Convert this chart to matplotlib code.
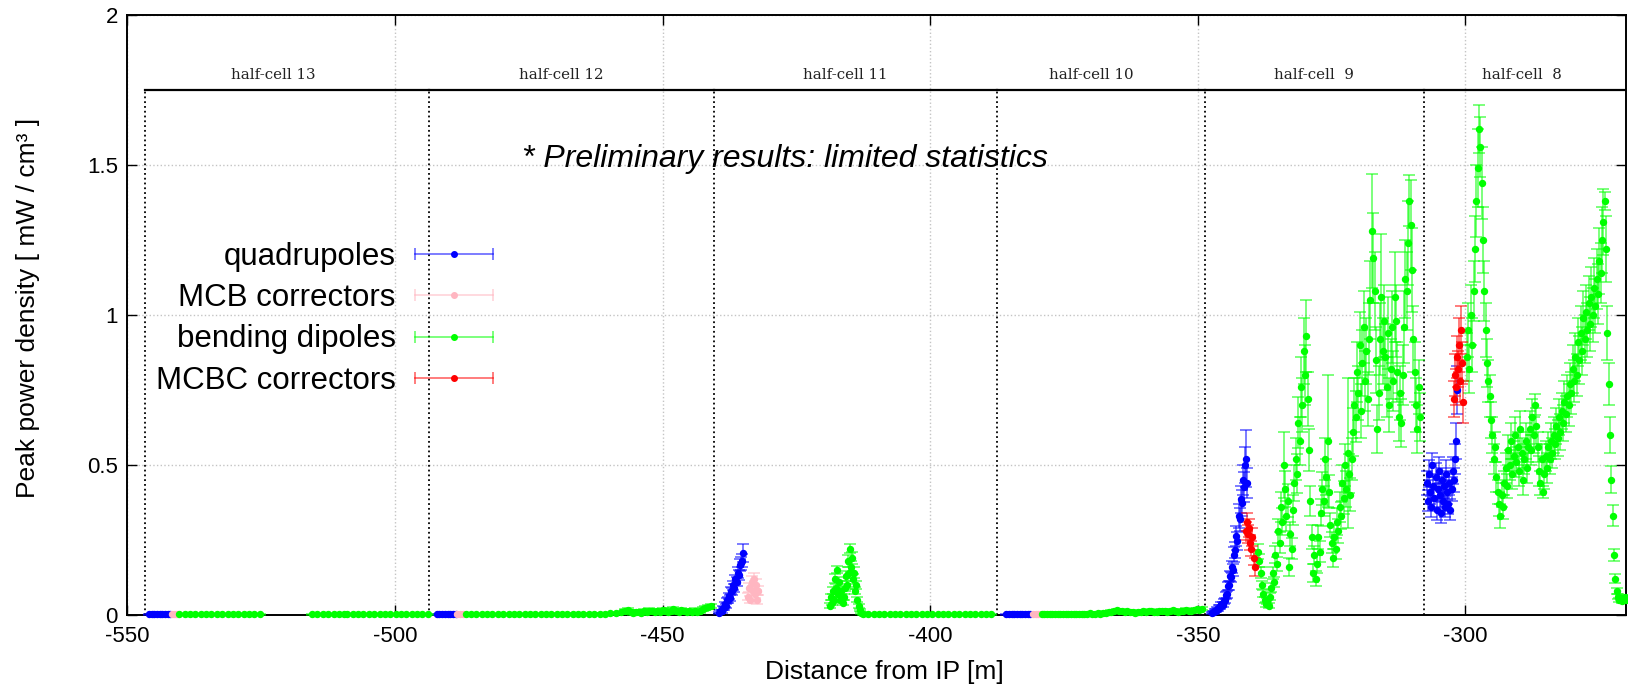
import numpy as np
import matplotlib.pyplot as plt
from matplotlib.colors import to_rgb
from matplotlib.lines import Line2D
from matplotlib.legend_handler import HandlerBase

plt.rcParams['font.family'] = ['Liberation Sans', 'DejaVu Sans']
plt.rcParams['axes.unicode_minus'] = False

# ---- data ----
# each segment: start position [m], spacing [m], values, errors

# quadrupoles
quad_flat1_y = [0.001, 0.002, 0.001, 0.001, 0.002, 0.001, 0.001, 0.002, 0.001]
quad_flat2_y = [0.002, 0.001, 0.001, 0.002, 0.001, 0.002, 0.001, 0.001]
quad_rise1_y = [0.006, 0.012, 0.011, 0.022, 0.021, 0.035, 0.030, 0.048, 0.050, 0.062,
                0.055, 0.080, 0.078, 0.098, 0.090, 0.118, 0.110, 0.140, 0.132, 0.165,
                0.172, 0.180, 0.205]
quad_rise1_err = [0.004, 0.005, 0.005, 0.006, 0.006, 0.008, 0.007, 0.009, 0.010, 0.010,
                  0.010, 0.012, 0.012, 0.014, 0.013, 0.016, 0.015, 0.018, 0.017, 0.020,
                  0.022, 0.022, 0.030]
quad_flat3_y = [0.001, 0.002, 0.001, 0.001, 0.002, 0.001, 0.002, 0.001, 0.001, 0.002]
quad_rise2_y = [0.005, 0.009, 0.008, 0.013, 0.014, 0.019, 0.018, 0.026, 0.025, 0.035,
                0.033, 0.045, 0.048, 0.065, 0.068, 0.095, 0.098, 0.128, 0.125, 0.158,
                0.150, 0.200, 0.215, 0.262, 0.245, 0.330, 0.318, 0.385, 0.372, 0.450,
                0.425, 0.500, 0.520, 0.440]
quad_rise2_err = [0.004, 0.004, 0.004, 0.005, 0.005, 0.006, 0.006, 0.007, 0.007, 0.008,
                  0.008, 0.009, 0.009, 0.011, 0.011, 0.014, 0.014, 0.017, 0.017, 0.020,
                  0.020, 0.025, 0.027, 0.032, 0.030, 0.040, 0.038, 0.045, 0.044, 0.050,
                  0.050, 0.060, 0.095, 0.050]
quad_cluster_y = [0.44, 0.38, 0.47, 0.41, 0.36, 0.50, 0.43, 0.39, 0.46, 0.35,
                  0.42, 0.48, 0.40, 0.34, 0.45, 0.38, 0.43, 0.36, 0.47, 0.41,
                  0.37, 0.44, 0.35, 0.42, 0.48, 0.45, 0.52, 0.58, 0.75]
quad_cluster_err = [0.04, 0.035, 0.045, 0.04, 0.035, 0.04, 0.04, 0.035, 0.045, 0.035,
                    0.04, 0.045, 0.04, 0.035, 0.04, 0.035, 0.04, 0.035, 0.045, 0.04,
                    0.035, 0.04, 0.035, 0.04, 0.045, 0.04, 0.05, 0.06, 0.08]

# MCB correctors
mcb_flat1_y = [0.001, 0.002, 0.001, 0.001]
mcb_flat2_y = [0.001, 0.002, 0.001]
mcb_cluster_y = [0.06, 0.09, 0.05, 0.11, 0.08, 0.12, 0.07, 0.10, 0.05, 0.08]
mcb_cluster_err = [0.012, 0.015, 0.012, 0.02, 0.015, 0.02, 0.015, 0.018, 0.015, 0.015]
mcb_flat3_y = [0.002, 0.001, 0.001]

# bending dipoles
bend_flat1_y = [0.001, 0.002, 0.001, 0.001, 0.002, 0.001, 0.002, 0.001,
                0.001, 0.002, 0.001, 0.001, 0.002, 0.001, 0.002, 0.001]
bend_flat2_y = [0.002, 0.001, 0.001, 0.002, 0.001, 0.002, 0.001]
bend_flat3_y = [0.001, 0.001, 0.002, 0.001, 0.002, 0.001, 0.001, 0.002,
                0.001, 0.001, 0.002, 0.001, 0.002, 0.001, 0.001, 0.002]
bend_flat4_y = [0.001, 0.002, 0.001, 0.001, 0.002, 0.002, 0.001, 0.002, 0.001, 0.001,
                0.002, 0.001, 0.002, 0.002, 0.001, 0.002, 0.003, 0.002, 0.002, 0.003,
                0.002, 0.003, 0.002, 0.003, 0.004, 0.003, 0.004, 0.005, 0.006, 0.008]
bend_low1_y = [0.012, 0.015, 0.010, 0.006, 0.008, 0.010, 0.007, 0.012, 0.009, 0.014,
               0.011, 0.008, 0.013, 0.010, 0.016, 0.012, 0.009, 0.014, 0.018, 0.012,
               0.010, 0.015, 0.011, 0.008, 0.012, 0.010, 0.014, 0.009, 0.013, 0.018,
               0.022, 0.026, 0.028]
bend_peak1_y = [0.03, 0.06, 0.04, 0.08, 0.05, 0.12, 0.09, 0.15, 0.07, 0.11,
                0.05, 0.08, 0.04, 0.06, 0.09, 0.13, 0.10, 0.18, 0.14, 0.22,
                0.16, 0.19, 0.12, 0.14, 0.08, 0.10, 0.05, 0.03, 0.015, 0.005]
bend_peak1_err = [0.008, 0.01, 0.008, 0.012, 0.01, 0.015, 0.012, 0.012, 0.01, 0.015,
                  0.008, 0.012, 0.008, 0.01, 0.012, 0.016, 0.014, 0.02, 0.018, 0.015,
                  0.02, 0.02, 0.016, 0.018, 0.012, 0.014, 0.008, 0.006, 0.004, 0.003]
bend_flat5_y = [0.002, 0.001, 0.001, 0.002, 0.001, 0.001, 0.002, 0.001, 0.002, 0.001]
bend_flat6_y = [0.001, 0.002, 0.001, 0.001, 0.002, 0.001, 0.002, 0.001,
                0.001, 0.002, 0.001, 0.002, 0.001, 0.001, 0.002]
bend_low2_y = [0.002, 0.003, 0.002, 0.003, 0.002, 0.004, 0.003, 0.002, 0.003, 0.004,
               0.003, 0.002, 0.003, 0.004, 0.003, 0.003, 0.004, 0.003, 0.005, 0.004,
               0.003, 0.005, 0.004, 0.006, 0.005, 0.008, 0.010,
               0.012, 0.015, 0.011, 0.014, 0.010, 0.012, 0.008, 0.009,
               0.007, 0.010, 0.008, 0.012, 0.009, 0.011, 0.013, 0.010, 0.008, 0.012,
               0.014, 0.011, 0.009, 0.013, 0.015, 0.012, 0.010, 0.014, 0.012, 0.016,
               0.013, 0.011, 0.015, 0.018, 0.016, 0.020]
bend_main1_y = [0.21, 0.18, 0.14, 0.10, 0.07, 0.05, 0.035, 0.045, 0.03, 0.06,
                0.09, 0.14, 0.11, 0.20, 0.17, 0.28, 0.24, 0.36, 0.31, 0.50,
                0.42, 0.33, 0.38, 0.16, 0.27, 0.22, 0.35, 0.44, 0.52, 0.47,
                0.64, 0.58, 0.76, 0.70, 0.88, 0.80, 0.93, 0.72, 0.55, 0.38,
                0.26, 0.14, 0.20, 0.12, 0.17, 0.26, 0.21, 0.34, 0.42, 0.38,
                0.52, 0.46, 0.58, 0.41, 0.30, 0.24, 0.19, 0.26, 0.22, 0.31,
                0.28, 0.36, 0.33, 0.44, 0.39, 0.50, 0.42, 0.54, 0.47, 0.40,
                0.52, 0.61, 0.70, 0.66, 0.81, 0.74, 0.90, 0.68, 0.84, 0.96,
                0.78, 0.88, 0.72, 0.92, 1.05, 1.28, 1.19, 1.08, 0.85, 0.62,
                0.74, 0.92, 1.06, 0.88, 0.98, 0.86, 0.76, 0.94, 0.70, 0.82,
                0.96, 0.78, 1.06, 0.98, 0.81, 0.66, 0.74, 0.64, 0.80, 0.96,
                1.12, 1.08, 1.24, 1.38, 1.30, 1.15, 0.92, 0.81, 0.70, 0.62,
                0.76, 0.66]
bend_main1_err = [0.025, 0.022, 0.018, 0.014, 0.012, 0.010, 0.008, 0.010, 0.008, 0.012,
                  0.015, 0.020, 0.016, 0.028, 0.024, 0.040, 0.035, 0.050, 0.045, 0.11,
                  0.060, 0.050, 0.055, 0.030, 0.040, 0.035, 0.050, 0.060, 0.070, 0.065,
                  0.085, 0.080, 0.10, 0.09, 0.11, 0.10, 0.12, 0.09, 0.07, 0.05,
                  0.04, 0.03, 0.03, 0.025, 0.03, 0.04, 0.035, 0.045, 0.055, 0.05,
                  0.07, 0.06, 0.22, 0.055, 0.04, 0.035, 0.03, 0.04, 0.035, 0.045,
                  0.04, 0.05, 0.045, 0.06, 0.055, 0.07, 0.06, 0.25, 0.065, 0.055,
                  0.07, 0.08, 0.09, 0.085, 0.10, 0.09, 0.11, 0.09, 0.11, 0.12,
                  0.10, 0.11, 0.09, 0.12, 0.13, 0.19, 0.15, 0.13, 0.11, 0.08,
                  0.09, 0.12, 0.21, 0.11, 0.12, 0.11, 0.10, 0.12, 0.09, 0.10,
                  0.12, 0.10, 0.15, 0.12, 0.10, 0.08, 0.09, 0.08, 0.10, 0.12,
                  0.13, 0.13, 0.14, 0.085, 0.15, 0.14, 0.11, 0.10, 0.09, 0.08,
                  0.09, 0.08]
bend_main2_y = [0.86, 0.95, 0.82, 1.00, 0.90, 1.08, 1.22, 1.38, 1.49, 1.62,
                1.56, 1.44, 1.25, 1.08, 0.95, 0.84, 0.78, 0.73, 0.65, 0.60,
                0.52, 0.56, 0.46, 0.41, 0.37, 0.33, 0.40, 0.36, 0.44, 0.49,
                0.43, 0.55, 0.50, 0.58, 0.47, 0.53, 0.60, 0.51, 0.56, 0.48,
                0.62, 0.54, 0.45, 0.52, 0.58, 0.49, 0.56, 0.62, 0.55, 0.66,
                0.60, 0.70, 0.63, 0.56, 0.48, 0.44, 0.52, 0.41, 0.47, 0.53,
                0.49, 0.56, 0.52, 0.58, 0.54, 0.60, 0.57, 0.63, 0.59, 0.66,
                0.61, 0.68, 0.64, 0.71, 0.67, 0.73, 0.70, 0.77, 0.74, 0.82,
                0.78, 0.86, 0.80, 0.91, 0.85, 0.94, 0.88, 0.99, 0.92, 1.01,
                0.95, 1.04, 0.97, 1.06, 1.00, 1.09, 1.03, 1.12, 1.07, 1.18,
                1.14, 1.25, 1.31, 1.38, 1.22, 0.94, 0.77, 0.60, 0.45, 0.33,
                0.20, 0.12, 0.08, 0.06, 0.05, 0.055, 0.045, 0.05, 0.06, 0.05,
                0.055, 0.05]
bend_main2_err = [0.08, 0.09, 0.08, 0.10, 0.09, 0.10, 0.11, 0.12, 0.13, 0.08,
                  0.10, 0.12, 0.11, 0.10, 0.09, 0.08, 0.07, 0.07, 0.06, 0.06,
                  0.05, 0.05, 0.05, 0.04, 0.04, 0.04, 0.04, 0.04, 0.04, 0.05,
                  0.04, 0.05, 0.05, 0.06, 0.05, 0.05, 0.06, 0.05, 0.05, 0.05,
                  0.06, 0.05, 0.05, 0.05, 0.06, 0.05, 0.05, 0.06, 0.05, 0.06,
                  0.06, 0.035, 0.06, 0.05, 0.05, 0.04, 0.05, 0.02, 0.05, 0.05,
                  0.05, 0.05, 0.05, 0.06, 0.05, 0.06, 0.05, 0.06, 0.06, 0.06,
                  0.06, 0.06, 0.06, 0.07, 0.06, 0.07, 0.07, 0.07, 0.07, 0.08,
                  0.07, 0.08, 0.07, 0.08, 0.08, 0.09, 0.08, 0.09, 0.08, 0.09,
                  0.09, 0.09, 0.09, 0.10, 0.09, 0.10, 0.09, 0.10, 0.10, 0.11,
                  0.10, 0.11, 0.11, 0.03, 0.11, 0.09, 0.07, 0.06, 0.045, 0.035,
                  0.02, 0.015, 0.01, 0.008, 0.007, 0.007, 0.006, 0.007, 0.007, 0.006,
                  0.007, 0.006]

# MCBC correctors
mcbc_1_y = [0.28, 0.31, 0.27, 0.29, 0.24, 0.22, 0.26, 0.19, 0.16]
mcbc_1_err = [0.03, 0.03, 0.03, 0.03, 0.025, 0.025, 0.03, 0.025, 0.03]
mcbc_2_y = [0.72, 0.80, 0.76, 0.86, 0.82, 0.90, 0.78, 0.95, 0.84, 0.71]
mcbc_2_err = [0.06, 0.07, 0.06, 0.07, 0.06, 0.09, 0.07, 0.08, 0.07, 0.07]

series_names = ['quadrupoles', 'MCB correctors', 'bending dipoles', 'MCBC correctors']
series_colors = ['#0000ff', '#ffb6c1', '#00ff00', '#ff0000']
series_segments = [
    [(-546.0, 0.5, quad_flat1_y, 0.002), (-492.2, 0.5, quad_flat2_y, 0.002),
     (-439.4, 0.2, quad_rise1_y, quad_rise1_err), (-385.8, 0.5, quad_flat3_y, 0.002),
     (-347.4, 0.2, quad_rise2_y, quad_rise2_err), (-307.2, 0.2, quad_cluster_y, quad_cluster_err)],
    [(-541.7, 0.4, mcb_flat1_y, 0.002), (-488.4, 0.5, mcb_flat2_y, 0.002),
     (-434.0, 0.2, mcb_cluster_y, mcb_cluster_err), (-380.8, 0.5, mcb_flat3_y, 0.002)],
    [(-540.3, 1.0, bend_flat1_y, 0.002), (-515.5, 1.0, bend_flat2_y, 0.002),
     (-508.9, 1.0, bend_flat3_y, 0.002), (-486.8, 1.0, bend_flat4_y, 0.002),
     (-457.0, 0.5, bend_low1_y, 0.007), (-418.8, 0.2, bend_peak1_y, bend_peak1_err),
     (-412.6, 1.0, bend_flat5_y, 0.002), (-402.6, 1.0, bend_flat6_y, 0.002),
     (-379.2, 0.5, bend_low2_y, 0.005), (-338.75, 0.25, bend_main1_y, bend_main1_err),
     (-299.75, 0.25, bend_main2_y, bend_main2_err)],
    [(-341.0, 0.2, mcbc_1_y, mcbc_1_err), (-302.2, 0.2, mcbc_2_y, mcbc_2_err)],
]

# half-cell boundaries and labels
hc_edges = [-546.7, -493.7, -440.4, -387.5, -348.6, -307.8, -270.0]
hc_labels = ['half-cell 13', 'half-cell 12', 'half-cell 11', 'half-cell 10', 'half-cell  9', 'half-cell  8']
hc_label_x = [-522.7, -469.0, -415.9, -370.0, -328.3, -289.4]
hc_level = 1.75

x_ticks = [-550, -500, -450, -400, -350, -300]
y_ticks = [0, 0.5, 1, 1.5, 2]
y_tick_labels = ['0', '0.5', '1', '1.5', '2']


class HErrHandler(HandlerBase):
    # gnuplot-like key sample: horizontal bar with caps and a dot
    def create_artists(self, legend, orig_handle, xdescent, ydescent, width, height, fontsize, trans):
        c = orig_handle.get_color()
        y = height / 2 - ydescent
        x0, x1 = -xdescent, width - xdescent
        bar = Line2D([x0, x1], [y, y], color=c, alpha=0.6, lw=1.2)
        caps = Line2D([x0, x1], [y, y], ls='none', marker='|', ms=8, mew=1.2, color=c, alpha=0.6)
        dot = Line2D([(x0 + x1) / 2], [y], ls='none', marker='o', ms=4, color=c)
        for a in (bar, caps, dot):
            a.set_transform(trans)
        return [bar, caps, dot]


fig = plt.figure(figsize=(16.28, 6.89), dpi=100)
ax = fig.add_axes([0.0783, 0.1078, 0.9205, 0.8711])

for segs, color in zip(series_segments, series_colors):
    ecol = (*to_rgb(color), 0.6)
    for start, step, y, err in segs:
        y = np.asarray(y)
        x = start + step * np.arange(len(y))
        cont = ax.errorbar(x, y, yerr=err, fmt='o', ms=4.3, color=color, ecolor=ecol,
                           elinewidth=1.2, capsize=4, capthick=1.2, zorder=3)
        cont.lines[0].set_clip_on(False)
        for art in cont.lines[1] + cont.lines[2]:
            art.set_clip_on(False)

# half-cell markers
ax.vlines(hc_edges[:-1], 0, hc_level, colors='k', linestyles=':', lw=1.3, zorder=2)
for i, lab in enumerate(hc_labels):
    ax.plot([hc_edges[i], hc_edges[i + 1]], [hc_level, hc_level], color='k', lw=1.6, zorder=2)
    ax.text(hc_label_x[i], hc_level + 0.026, lab, ha='center', va='bottom',
            fontsize=10.8, family='DejaVu Serif', color='#222222')

ax.text(-476.2, 1.519, '* Preliminary results: limited statistics', ha='left', va='center',
        fontsize=23, style='italic')

ax.set_xlim(-550, -270)
ax.set_ylim(0, 2)
ax.set_xticks(x_ticks)
ax.set_yticks(y_ticks)
ax.set_yticklabels(y_tick_labels)
ax.tick_params(direction='in', top=True, right=True, length=7, width=1, labelsize=16, pad=7)
ax.tick_params(axis='x', pad=8)
ax.grid(True, ls=':', color='#c4c4c4', lw=1)
for sp in ax.spines.values():
    sp.set_linewidth(1.4)

ax.set_xlabel('Distance from IP [m]', fontsize=19)
ax.set_ylabel('Peak power density [ mW / cm³ ]', fontsize=19)
ax.xaxis.set_label_coords(0.505, -0.075)
ax.yaxis.set_label_coords(-0.0587, 0.511)

handles = [Line2D([], [], color=c, label=n) for n, c in zip(series_names, series_colors)]
ax.legend(handles=handles, handler_map={Line2D: HErrHandler()}, markerfirst=False,
          frameon=False, fontsize=22.5, loc='upper right', bbox_to_anchor=(493 / 1628, 1 - 242 / 689),
          bbox_transform=fig.transFigure, borderpad=0, borderaxespad=0,
          handlelength=2.5, handletextpad=0.62, labelspacing=0.36)

fig.savefig('out.png', dpi=100)
